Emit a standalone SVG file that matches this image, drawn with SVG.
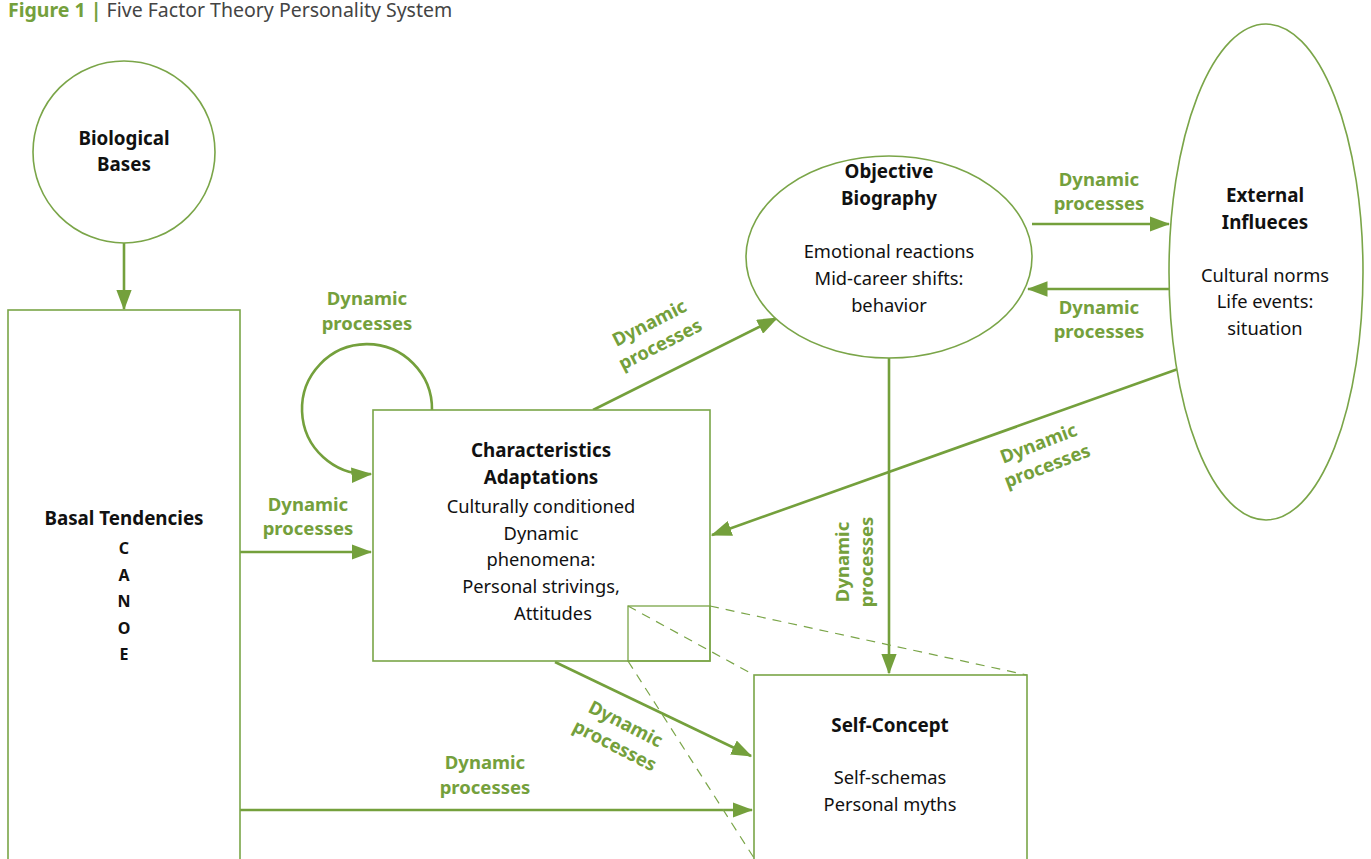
<svg xmlns="http://www.w3.org/2000/svg" width="1371" height="859" viewBox="0 0 1371 859">
<defs>
<marker id="ah" markerWidth="8" markerHeight="6" refX="7.5" refY="3" orient="auto" markerUnits="strokeWidth">
<path d="M0,0 L8,3 L0,6 Z" fill="#74a03c"/>
</marker>
<style>
.node{fill:#fff;stroke:#7aa548;stroke-width:1.6}
.thin{fill:none;stroke:#7aa548;stroke-width:1.3}
.dash{fill:none;stroke:#7aa548;stroke-width:1.2;stroke-dasharray:9,7}
.arr{fill:none;stroke:#74a03c;stroke-width:2.6;marker-end:url(#ah)}
text{font-family:"Noto Sans","Open Sans","Liberation Sans",sans-serif;font-size:18.3px;fill:#111;text-anchor:middle}
.b{font-weight:bold;font-size:18.8px}
.g{fill:#74a03c;font-weight:bold;font-size:18.5px}
.s{font-size:16px;font-weight:bold}
</style>
</defs>
<rect width="1371" height="859" fill="#fff"/>
<text x="8" y="17" style="text-anchor:start;font-size:19.5px"><tspan fill="#74a03c" font-weight="bold">Figure 1 |</tspan><tspan fill="#444"> Five Factor Theory Personality System</tspan></text>

<g id="connectors">
<line class="arr" x1="124" y1="243" x2="124" y2="309"/>
<line class="arr" x1="240" y1="552" x2="371" y2="552"/>
<line class="arr" x1="240" y1="810" x2="752" y2="810"/>
<line class="arr" x1="555" y1="662" x2="751" y2="756"/>
<line class="arr" x1="593" y1="410" x2="777" y2="318"/>
<line class="arr" x1="1032" y1="224" x2="1169" y2="224"/>
<line class="arr" x1="1170" y1="289" x2="1028" y2="289"/>
<line class="arr" x1="1178" y1="369" x2="712" y2="535"/>
<line class="arr" x1="889" y1="358" x2="889" y2="673"/>
<path class="arr" d="M432,410 A65,65 0 1 0 371,474"/>
</g>

<g id="biological-bases">
<circle class="node" cx="124" cy="152" r="91"/>
<text class="b" x="124" y="145">Biological</text>
<text class="b" x="124" y="171">Bases</text>
</g>

<g id="basal-tendencies">
<rect class="node" x="8" y="310" width="232" height="560"/>
<text class="b" x="124" y="525">Basal Tendencies</text>
<text class="s" x="124" y="554">C</text>
<text class="s" x="124" y="581">A</text>
<text class="s" x="124" y="607">N</text>
<text class="s" x="124" y="634">O</text>
<text class="s" x="124" y="660">E</text>
</g>

<g id="characteristic-adaptations">
<rect class="node" x="373" y="410" width="337" height="251"/>
<text class="b" x="541" y="457">Characteristics</text>
<text class="b" x="541" y="484">Adaptations</text>
<text x="541" y="513">Culturally conditioned</text>
<text x="541" y="540">Dynamic</text>
<text x="541" y="566">phenomena:</text>
<text x="541" y="593">Personal strivings,</text>
<text x="553" y="620">Attitudes</text>
</g>

<g id="objective-biography">
<ellipse class="node" cx="889" cy="257" rx="143" ry="101"/>
<text class="b" x="889" y="178">Objective</text>
<text class="b" x="889" y="205">Biography</text>
<text x="889" y="258">Emotional reactions</text>
<text x="889" y="285">Mid-career shifts:</text>
<text x="889" y="312">behavior</text>
</g>

<g id="external-influences">
<ellipse class="node" cx="1266" cy="272" rx="97" ry="248"/>
<text class="b" x="1265" y="202">External</text>
<text class="b" x="1265" y="229">Influeces</text>
<text x="1265" y="282">Cultural norms</text>
<text x="1265" y="308">Life events:</text>
<text x="1265" y="335">situation</text>
</g>

<g id="self-concept">
<rect class="node" x="754" y="675" width="273" height="190"/>
<text class="b" x="890" y="732">Self-Concept</text>
<text x="890" y="784">Self-schemas</text>
<text x="890" y="811">Personal myths</text>
</g>

<g id="zoom-callout">
<rect class="thin" x="628" y="606" width="82" height="55"/>
<line class="dash" x1="710" y1="606" x2="1027" y2="675"/>
<line class="dash" x1="628" y1="606" x2="754" y2="675"/>
<line class="dash" x1="628" y1="661" x2="754" y2="858"/>
</g>

<g id="labels">
<text class="g" x="367" y="305">Dynamic</text>
<text class="g" x="367" y="330">processes</text>
<text class="g" x="308" y="511">Dynamic</text>
<text class="g" x="308" y="535">processes</text>
<text class="g" x="1099" y="186">Dynamic</text>
<text class="g" x="1099" y="210">processes</text>
<text class="g" x="1099" y="314">Dynamic</text>
<text class="g" x="1099" y="338">processes</text>
<text class="g" x="485" y="769">Dynamic</text>
<text class="g" x="485" y="794">processes</text>
<g transform="translate(655,334) rotate(-27)"><text class="g" x="0" y="-6">Dynamic</text><text class="g" x="0" y="18">processes</text></g>
<g transform="translate(1043,455) rotate(-21)"><text class="g" x="0" y="-6">Dynamic</text><text class="g" x="0" y="18">processes</text></g>
<g transform="translate(620,735) rotate(27)"><text class="g" x="0" y="-6">Dynamic</text><text class="g" x="0" y="18">processes</text></g>
<g transform="translate(855,562) rotate(-90)"><text class="g" x="0" y="-6">Dynamic</text><text class="g" x="0" y="18">processes</text></g>
</g>
</svg>
